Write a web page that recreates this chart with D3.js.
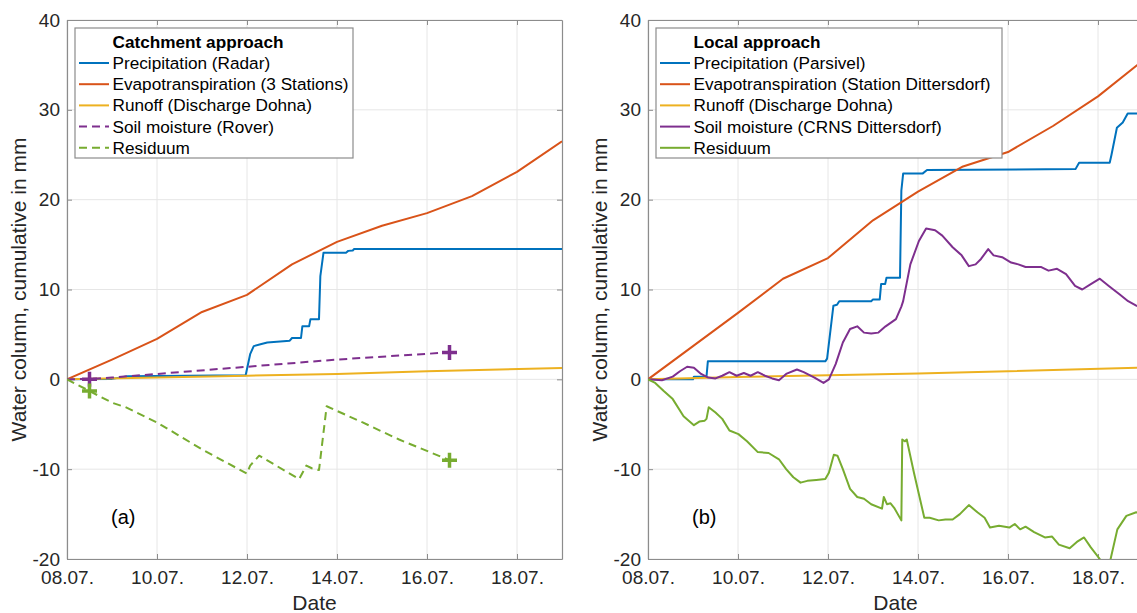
<!DOCTYPE html>
<html>
<head>
<meta charset="utf-8">
<script src="https://cdn.jsdelivr.net/npm/d3@7"></script>
<style>
  body { margin: 0; background: #fff; }
  svg { display: block; font-family: "Liberation Sans", Arial, Helvetica, sans-serif; }
  .grid line { stroke: #e6e6e6; stroke-width: 1; }
  .tick-label { font-size: 19px; fill: #262626; }
  .axis-label { font-size: 21px; fill: #262626; }
  .legend text { font-size: 17.2px; fill: #000; }
</style>
</head>
<body>
<svg width="1137" height="613"></svg>
<script>
// ---- data (x = day of July, y = water column in mm) ----
const xTicks = [8, 10, 12, 14, 16, 18];
const yTicks = [-20, -10, 0, 10, 20, 30, 40];

// (a) catchment approach
const precipRadar = [[8,0],[9.0,0.05],[9.35,0.35],[11.97,0.45],[12.07,2.8],[12.15,3.7],[12.3,3.9],[12.45,4.1],
  [12.95,4.3],[13.0,4.6],[13.2,4.6],[13.23,5.9],[13.38,5.9],[13.41,6.7],[13.6,6.7],[13.63,11.5],[13.7,14.1],
  [14.2,14.1],[14.25,14.3],[14.35,14.35],[14.38,14.5],[19,14.5]];
const evapStations = [[8,0],[9,2.2],[10,4.5],[11,7.5],[12,9.4],[13,12.8],[14,15.3],[15,17.1],[16,18.5],[17,20.4],[18,23.1],[19,26.5]];
const runoffA = [[8,0],[10,0.2],[12,0.4],[14,0.6],[16,0.9],[19,1.25]];
const soilRover = [[8,0],[8.5,0.05],[9,0.2],[10,0.6],[12,1.4],[14,2.2],[16.5,3.0]];
const residA = [[8,0],[8.5,-1.3],[9,-2.6],[9.3,-3.1],[10,-4.8],[11,-7.8],[12,-10.5],[12.07,-9.6],[12.27,-8.5],
  [13.16,-11.1],[13.32,-9.6],[13.44,-9.9],[13.6,-10.1],[13.77,-3.0],[14.57,-4.8],[15.38,-6.7],[16.5,-9.0]];
const soilRoverPts = [[8.5,0],[16.5,3.0]];
const residAPts = [[8.5,-1.3],[16.5,-9.0]];

// (b) local approach
const precipParsivel = [[8,0],[9.0,0.0],[9.02,0.3],[9.3,0.3],[9.33,2.0],[11.94,2.0],[11.98,2.3],[12.12,8.2],[12.2,8.3],
  [12.25,8.7],[12.96,8.7],[13.0,8.9],[13.15,8.9],[13.18,10.6],[13.27,10.6],[13.3,11.3],[13.6,11.3],[13.63,21.0],
  [13.67,22.9],[14.1,22.9],[14.2,23.3],[17.5,23.4],[17.58,24.1],[18.26,24.1],[18.3,25.0],[18.42,28.0],[18.55,28.6],
  [18.66,29.6],[19,29.6]];
const evapDittersdorf = [[8,0],[9,3.7],[10,7.4],[11,11.2],[12,13.5],[13,17.7],[14,20.9],[15,23.7],[16,25.3],[17,28.2],[18,31.5],[19,35.5]];
const runoffB = [[8,0],[10,0.25],[12,0.45],[14,0.65],[16,0.9],[19,1.3]];
const soilCRNS = [[8,0],[8.31,-0.1],[8.55,0.3],[8.71,0.9],[8.87,1.4],[9.02,1.3],[9.18,0.6],[9.34,0.2],[9.5,0.1],
  [9.65,0.4],[9.81,0.8],[9.97,0.4],[10.13,0.7],[10.28,0.4],[10.44,0.8],[10.6,0.4],[10.76,0.1],[10.91,-0.1],
  [11.07,0.6],[11.31,1.1],[11.46,0.8],[11.7,0.2],[11.9,-0.4],[12.02,0],[12.17,1.7],[12.33,4.1],[12.49,5.6],
  [12.65,5.9],[12.8,5.2],[12.96,5.1],[13.12,5.2],[13.28,5.9],[13.51,6.7],[13.63,8.1],[13.67,8.7],[13.83,12.8],
  [14.02,15.4],[14.18,16.8],[14.38,16.6],[14.54,16.0],[14.77,14.7],[14.97,13.8],[15.13,12.6],[15.28,12.8],
  [15.4,13.4],[15.56,14.5],[15.68,13.8],[15.87,13.6],[16.07,13.0],[16.23,12.8],[16.39,12.5],[16.58,12.5],
  [16.74,12.5],[16.9,12.1],[17.09,12.3],[17.29,11.7],[17.49,10.4],[17.65,10.0],[17.84,10.6],[18.04,11.2],
  [18.24,10.4],[18.47,9.5],[18.67,8.7],[18.85,8.2],[19,7.9]];
const residB = [[8,0],[8.16,-0.4],[8.35,-1.3],[8.55,-2.2],[8.79,-4.1],[9.02,-5.1],[9.14,-4.7],[9.26,-4.6],[9.3,-4.4],
  [9.35,-3.1],[9.5,-3.7],[9.65,-4.4],[9.81,-5.7],[10.01,-6.1],[10.2,-6.9],[10.44,-8.1],[10.68,-8.2],[10.91,-8.9],
  [11.07,-10],[11.23,-10.9],[11.39,-11.5],[11.54,-11.3],[11.74,-11.2],[11.94,-11.1],[12.02,-10.4],[12.13,-8.4],
  [12.21,-8.5],[12.33,-10],[12.49,-12.2],[12.65,-13.1],[12.8,-13.3],[12.96,-13.9],[13.2,-14.4],[13.24,-13.1],
  [13.31,-13.9],[13.39,-13.8],[13.47,-14.3],[13.63,-15.7],[13.65,-6.7],[13.71,-6.9],[13.75,-6.7],[13.91,-10.4],
  [14.14,-15.4],[14.26,-15.4],[14.46,-15.7],[14.61,-15.6],[14.77,-15.6],[14.93,-15],[15.13,-14],[15.32,-14.8],
  [15.48,-15.4],[15.6,-16.5],[15.8,-16.3],[16.03,-16.5],[16.15,-16.1],[16.27,-16.7],[16.39,-16.4],[16.58,-17],
  [16.82,-17.6],[16.98,-17.5],[17.13,-18.4],[17.37,-18.8],[17.53,-18.1],[17.69,-17.6],[17.84,-18.7],[18.04,-20],
  [18.16,-21.5],[18.24,-21],[18.28,-20],[18.43,-16.7],[18.63,-15.2],[18.85,-14.8],[19,-14.9]];

const blue = '#0072BD', orange = '#D95319', yellow = '#EDB120', purple = '#7E2F8E', green = '#77AC30';

const panels = [
  {
    id: 'a', left: 67, tag: '(a)', title: 'Catchment approach', legendW: 278,
    series: [
      { name: 'Precipitation (Radar)', data: precipRadar, color: blue },
      { name: 'Evapotranspiration (3 Stations)', data: evapStations, color: orange },
      { name: 'Runoff (Discharge Dohna)', data: runoffA, color: yellow },
      { name: 'Soil moisture (Rover)', data: soilRover, color: purple, dash: true, marks: soilRoverPts },
      { name: 'Residuum', data: residA, color: green, dash: true, marks: residAPts }
    ]
  },
  {
    id: 'b', left: 648, tag: '(b)', title: 'Local approach', legendW: 346,
    series: [
      { name: 'Precipitation (Parsivel)', data: precipParsivel, color: blue },
      { name: 'Evapotranspiration (Station Dittersdorf)', data: evapDittersdorf, color: orange },
      { name: 'Runoff (Discharge Dohna)', data: runoffB, color: yellow },
      { name: 'Soil moisture (CRNS Dittersdorf)', data: soilCRNS, color: purple },
      { name: 'Residuum', data: residB, color: green }
    ]
  }
];

const svg = d3.select('svg');
const plotW = 495, plotTop = 20, plotBottom = 559;
const fmtDate = d => d3.format('02')(d) + '.07.';
const fmtVal = d => String(d);  // plain hyphen minus like MATLAB

panels.forEach(p => {
  const x = d3.scaleLinear().domain([8, 19]).range([p.left, p.left + plotW]);
  const y = d3.scaleLinear().domain([-20, 40]).range([plotBottom, plotTop]);
  const g = svg.append('g');

  g.append('clipPath').attr('id', 'clip-' + p.id)
    .append('rect')
    .attr('x', p.left).attr('y', plotTop)
    .attr('width', plotW).attr('height', plotBottom - plotTop);

  // grid
  const grid = g.append('g').attr('class', 'grid');
  grid.selectAll('.gx').data(xTicks).enter().append('line')
    .attr('x1', d => x(d)).attr('x2', d => x(d))
    .attr('y1', plotTop).attr('y2', plotBottom);
  grid.selectAll('.gy').data(yTicks).enter().append('line')
    .attr('x1', p.left).attr('x2', p.left + plotW)
    .attr('y1', d => y(d)).attr('y2', d => y(d));

  // axes (MATLAB style: inward ticks, box on)
  const axB = g.append('g').attr('transform', `translate(0,${plotBottom})`)
    .call(d3.axisBottom(x).tickValues(xTicks).tickSizeInner(-5).tickSizeOuter(0).tickFormat(fmtDate));
  const axT = g.append('g').attr('transform', `translate(0,${plotTop})`)
    .call(d3.axisTop(x).tickValues(xTicks).tickSizeInner(-5).tickSizeOuter(0).tickFormat(''));
  const axL = g.append('g').attr('transform', `translate(${p.left},0)`)
    .call(d3.axisLeft(y).tickValues(yTicks).tickSizeInner(-5).tickSizeOuter(0).tickFormat(fmtVal));
  const axR = g.append('g').attr('transform', `translate(${p.left + plotW},0)`)
    .call(d3.axisRight(y).tickValues(yTicks).tickSizeInner(-5).tickSizeOuter(0).tickFormat(''));
  [axB, axT, axL, axR].forEach(a => {
    a.select('.domain').attr('stroke', '#8c8c8c').attr('stroke-width', 1.2);
    a.selectAll('.tick line').attr('stroke', '#8c8c8c');
    a.selectAll('.tick text').attr('class', 'tick-label').attr('font-size', null).attr('font-family', null);
  });
  axB.selectAll('.tick text').attr('y', 12);
  axL.selectAll('.tick text').attr('x', -7);

  // axis titles
  svg.append('text').attr('class', 'axis-label')
    .attr('x', x(13.5)).attr('y', 610).attr('text-anchor', 'middle').text('Date');
  svg.append('text').attr('class', 'axis-label')
    .attr('transform', `translate(${p.left - 41},${y(10)}) rotate(-90)`)
    .attr('text-anchor', 'middle').text('Water column, cumulative in mm');

  // lines
  const line = d3.line().x(d => x(d[0])).y(d => y(d[1]));
  const plot = g.append('g').attr('clip-path', `url(#clip-${p.id})`);
  p.series.forEach(s => {
    plot.append('path').datum(s.data)
      .attr('d', line)
      .attr('fill', 'none')
      .attr('stroke', s.color)
      .attr('stroke-width', 2)
      .attr('stroke-linejoin', 'round')
      .attr('stroke-dasharray', s.dash ? '8,5' : null);
  });
  p.series.filter(s => s.marks).forEach(s => {
    plot.selectAll(null).data(s.marks).enter().append('path')
      .attr('transform', d => `translate(${x(d[0])},${y(d[1])})`)
      .attr('d', 'M-7.5,0H7.5M0,-7.5V7.5')
      .attr('stroke', s.color)
      .attr('stroke-width', 3.5);
  });

  // panel tag
  g.append('text').attr('x', x(9.25)).attr('y', y(-15.3))
    .attr('text-anchor', 'middle').attr('dominant-baseline', 'central')
    .attr('font-size', 20).attr('fill', '#000').text(p.tag);

  // legend
  const lg = g.append('g').attr('class', 'legend')
    .attr('transform', `translate(${p.left + 8},28)`);
  lg.append('rect').attr('width', p.legendW).attr('height', 130)
    .attr('fill', '#fff').attr('stroke', '#8c8c8c').attr('stroke-width', 1.2);
  lg.append('text').attr('x', 37.5).attr('y', 14).attr('dominant-baseline', 'central')
    .attr('font-weight', 'bold').text(p.title);
  const rows = lg.selectAll('.row').data(p.series).enter().append('g')
    .attr('transform', (d, i) => `translate(0,${35 + i * 21.2})`);
  rows.append('line').attr('x1', 4).attr('x2', 34)
    .attr('stroke', d => d.color).attr('stroke-width', 2)
    .attr('stroke-dasharray', d => d.dash ? '8,5' : null);
  rows.append('text').attr('x', 37.5).attr('dominant-baseline', 'central').text(d => d.name);
});
</script>
</body>
</html>
